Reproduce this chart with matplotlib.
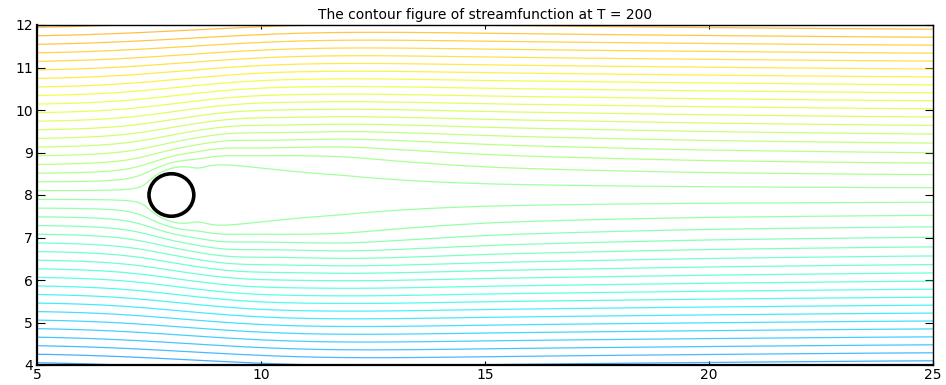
import numpy as np
import matplotlib
matplotlib.use("Agg")
import matplotlib.pyplot as plt
from matplotlib.patches import Circle

# Plot window and cylinder geometry
x_limits = (5.0, 25.0)
y_limits = (4.0, 12.0)
x_ticks = [5, 10, 15, 20, 25]
y_ticks = [4, 5, 6, 7, 8, 9, 10, 11, 12]
cyl_center = (8.0, 8.0)
cyl_radius = 0.5

# Streamfunction contour levels and colour range
level_first, level_last, level_step = 0.1, 15.9, 0.2
color_range = (0.0, 16.0)

# Wake displacement profile along the channel
wake_x = [5.0, 7.5, 8.0, 8.25, 8.5, 8.75, 9.0, 9.3, 10.0, 11.9, 15.3, 20.0, 25.0]
wake_amp = [0.0, 0.0, 0.0, 0.12, 0.36, 0.55, 0.62, 0.64, 0.66, 0.73, 0.65, 0.62, 0.62]
wake_eps = [0.02, 0.02, 0.02, 0.02, 0.02, 0.02, 0.02, 0.03, 0.06, 0.14, 0.36, 0.60, 0.80]
wake_len = [3.5, 3.5, 3.5, 3.5, 3.5, 3.5, 3.5, 3.6, 3.9, 4.4, 4.3, 3.8, 3.2]
# streamwise spreading of the displacement grows with distance from the axis
spread_base, spread_rate = 0.1, 0.45

title = "The contour figure of streamfunction at T = 200"

# ---- streamfunction field -------------------------------------------------
xc, yc = cyl_center
x = np.linspace(x_limits[0], x_limits[1], 1201)
y = np.linspace(y_limits[0] - 0.5, y_limits[1] + 0.5, 801)
y0 = np.linspace(-4.0, 20.0, 9601)
d0 = np.abs(y0 - yc)
s0 = np.sign(y0 - yc)

step = 0.02
xf = np.arange(-20.0, 50.0, step)


def smooth(values, width):
    half = int(np.ceil(4 * width / step))
    t = np.arange(-half, half + 1) * step
    ker = np.exp(-0.5 * (t / width) ** 2)
    ker /= ker.sum()
    return np.convolve(values, ker, mode="same")


# wake amplitude smoothed in x with a width depending on the offset d
Bf = np.interp(xf, wake_x, wake_amp)
dk = np.linspace(0.0, 12.0, 121)
Bs = np.empty((x.size, dk.size))
for k, dd in enumerate(dk):
    Bs[:, k] = np.interp(x, xf, smooth(Bf, spread_base + spread_rate * dd))
eps_x = np.interp(x, xf, smooth(np.interp(xf, wake_x, wake_eps), 0.8))
len_x = np.interp(x, xf, smooth(np.interp(xf, wake_x, wake_len), 1.5))

psi = np.empty((y.size, x.size))
for i, xi in enumerate(x):
    B = np.interp(d0, dk, Bs[i])
    disp = B * (1.0 - np.exp(-d0 / eps_x[i])) * np.exp(-d0 / len_x[i])
    mapped = y0 + s0 * disp
    ys = np.interp(y, mapped, y0)
    dx = xi - xc
    dy = ys - yc
    r2 = dx * dx + dy * dy
    col = yc + dy * (1.0 - cyl_radius ** 2 / np.maximum(r2, 1e-9))
    col[r2 < cyl_radius ** 2] = yc
    psi[:, i] = col

X, Y = np.meshgrid(x, y)
levels = np.arange(level_first, level_last + 1e-9, level_step)

# ---- figure ---------------------------------------------------------------
fig = plt.figure(figsize=(9.46, 3.85), dpi=100)
ax = fig.add_axes([37 / 946, 20 / 385, 896 / 946, 340 / 385])

ax.contour(X, Y, psi, levels=levels, cmap="jet",
           vmin=color_range[0], vmax=color_range[1],
           linewidths=0.9, alpha=0.72)
ax.add_patch(Circle(cyl_center, cyl_radius, fill=False, lw=2.6,
                    ec="black", zorder=5))

ax.set_xlim(*x_limits)
ax.set_ylim(*y_limits)
ax.set_xticks(x_ticks)
ax.set_yticks(y_ticks)
ax.set_xticklabels([str(v) for v in x_ticks])
ax.set_yticklabels([str(v) for v in y_ticks])
ax.tick_params(axis="both", direction="in", top=True, right=True,
               labelsize=10, colors="black", width=0.8)
ax.tick_params(axis="y", length=6, pad=3)
ax.tick_params(axis="x", length=3, pad=2)
for side in ("left", "bottom"):
    ax.spines[side].set_linewidth(1.6)
for side in ("top", "right"):
    ax.spines[side].set_linewidth(1.0)

ax.set_title(title, fontsize=10, pad=4)

fig.savefig("out.png", dpi=100)
